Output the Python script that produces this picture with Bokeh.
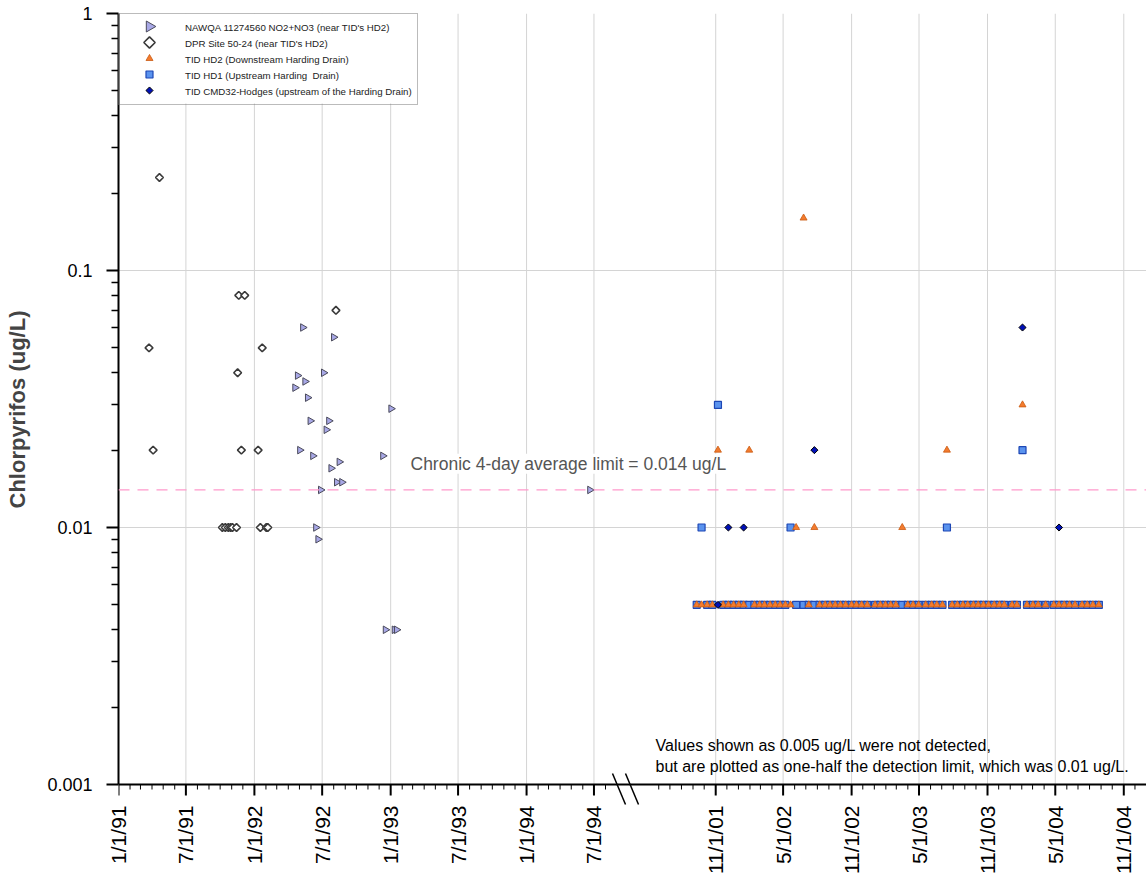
import math
from datetime import date
from bokeh.plotting import figure
from bokeh.models import (Range1d, FixedTicker, Span, Label, Legend, LegendItem,
                          ColumnDataSource)
from bokeh.embed import file_html
from bokeh.resources import INLINE

# ---------------- data ----------------
nawqa_dates = ["1992-05-10", "1992-08-01", "1992-04-26", "1992-07-05", "1992-05-16",
               "1992-04-19", "1992-05-23", "1993-01-02", "1992-05-30", "1992-07-19",
               "1992-07-12", "1992-05-02", "1992-06-06", "1992-12-11", "1992-08-16",
               "1992-07-25", "1992-08-09", "1992-08-23", "1992-06-27", "1994-06-20",
               "1992-06-14", "1992-06-20", "1992-12-18", "1993-01-11", "1993-01-17"]
nawqa_vals = [0.06, 0.055, 0.039, 0.04, 0.037,
              0.035, 0.032, 0.029, 0.026, 0.026,
              0.024, 0.02, 0.019, 0.019, 0.018,
              0.017, 0.015, 0.015, 0.014, 0.014,
              0.01, 0.009, 0.004, 0.004, 0.004]

dpr_dates = ["1991-03-24", "1991-04-04", "1991-04-21", "1991-10-07", "1991-10-15",
             "1991-10-23", "1991-10-29", "1991-11-03", "1991-11-14", "1991-11-17",
             "1991-11-20", "1991-11-27", "1991-12-06", "1992-01-11", "1992-01-17",
             "1992-01-22", "1992-02-02", "1992-02-06", "1992-08-07"]
dpr_vals = [0.05, 0.02, 0.23, 0.01, 0.01,
            0.01, 0.01, 0.01, 0.01, 0.04,
            0.08, 0.02, 0.08, 0.02, 0.01,
            0.05, 0.01, 0.01, 0.07]

tid_dates = ["2001-09-11", "2001-09-24", "2001-10-09", "2001-10-23", "2001-11-07",
             "2001-11-21", "2001-12-05", "2001-12-19", "2002-01-02", "2002-01-15",
             "2002-01-30", "2002-02-13", "2002-02-27", "2002-03-12", "2002-03-27",
             "2002-04-10", "2002-04-23", "2002-05-07", "2002-05-21", "2002-06-05",
             "2002-06-25", "2002-07-09", "2002-07-24", "2002-08-07", "2002-08-22",
             "2002-09-04", "2002-09-18", "2002-10-02", "2002-10-16", "2002-11-01",
             "2002-11-14", "2002-11-28", "2002-12-13", "2003-01-03", "2003-01-17",
             "2003-01-31", "2003-02-14", "2003-02-28", "2003-03-17", "2003-04-01",
             "2003-04-15", "2003-04-30", "2003-05-19", "2003-06-04", "2003-06-18",
             "2003-07-03", "2003-07-15", "2003-07-29", "2003-08-12", "2003-08-27",
             "2003-09-09", "2003-09-24", "2003-10-07", "2003-10-21", "2003-11-04",
             "2003-11-19", "2003-12-03", "2003-12-16", "2004-01-06", "2004-01-19",
             "2004-02-03", "2004-02-15", "2004-03-02", "2004-03-16", "2004-04-05",
             "2004-04-27", "2004-05-11", "2004-05-25", "2004-06-08", "2004-06-23",
             "2004-07-12", "2004-07-26", "2004-08-10", "2004-08-26"]
hd1_vals = [0.005, 0.01, 0.005, 0.005, 0.03,
            0.005, 0.005, 0.005, 0.005, 0.005,
            0.005, 0.005, 0.005, 0.005, 0.005,
            0.005, 0.005, 0.005, 0.01, 0.005,
            0.005, 0.005, 0.005, 0.005, 0.005,
            0.005, 0.005, 0.005, 0.005, 0.005,
            0.005, 0.005, 0.005, 0.005, 0.005,
            0.005, 0.005, 0.005, 0.005, 0.005,
            0.005, 0.005, 0.005, 0.005, 0.005,
            0.005, 0.01, 0.005, 0.005, 0.005,
            0.005, 0.005, 0.005, 0.005, 0.005,
            0.005, 0.005, 0.005, 0.005, 0.005,
            0.02, 0.005, 0.005, 0.005, 0.005,
            0.005, 0.005, 0.005, 0.005, 0.005,
            0.005, 0.005, 0.005, 0.005]
hd2_vals = [0.005, 0.005, 0.005, 0.005, 0.02,
            0.005, 0.005, 0.005, 0.005, 0.005,
            0.02, 0.005, 0.005, 0.005, 0.005,
            0.005, 0.005, 0.005, 0.005, 0.01,
            0.16, 0.005, 0.01, 0.005, 0.005,
            0.005, 0.005, 0.005, 0.005, 0.005,
            0.005, 0.005, 0.005, 0.005, 0.005,
            0.005, 0.005, 0.005, 0.01, 0.005,
            0.005, 0.005, 0.005, 0.005, 0.005,
            0.005, 0.02, 0.005, 0.005, 0.005,
            0.005, 0.005, 0.005, 0.005, 0.005,
            0.005, 0.005, 0.005, 0.005, 0.005,
            0.03, 0.005, 0.005, 0.005, 0.005,
            0.005, 0.005, 0.005, 0.005, 0.005,
            0.005, 0.005, 0.005, 0.005]

cmd_dates = ["2001-11-07", "2001-12-05", "2002-01-15", "2002-07-24", "2004-02-03", "2004-05-11"]
cmd_vals = [0.005, 0.01, 0.01, 0.02, 0.06, 0.01]

x_tick_dates = ["1991-01-01", "1991-07-01", "1992-01-01", "1992-07-01", "1993-01-01",
                "1993-07-01", "1994-01-01", "1994-07-01",
                "2001-11-01", "2002-05-01", "2002-11-01", "2003-05-01", "2003-11-01",
                "2004-05-01", "2004-11-01"]
x_tick_labels = ["1/1/91", "7/1/91", "1/1/92", "7/1/92", "1/1/93", "7/1/93", "1/1/94", "7/1/94",
                 "11/1/01", "5/1/02", "11/1/02", "5/1/03", "11/1/03", "5/1/04", "11/1/04"]
y_ticks = [0.001, 0.01, 0.1, 1]
y_tick_labels = ["0.001", "0.01", "0.1", "1"]
chronic_limit = 0.014

legend_labels = ["NAWQA 11274560 NO2+NO3 (near TID's HD2)",
                 "DPR Site 50-24 (near TID's HD2)",
                 "TID HD2 (Downstream Harding Drain)",
                 "TID HD1 (Upstream Harding  Drain)",
                 "TID CMD32-Hodges (upstream of the Harding Drain)"]

# ---------------- broken time axis ----------------
LEFT0 = date(1991, 1, 1)
RIGHT0 = date(2001, 11, 1)
RIGHT_OFFSET = 1604          # axis position (days) of 11/1/01 after the break
BREAK_DATE = date(1998, 1, 1)
X_END = 2761


def to_x(s):
    d = date.fromisoformat(s) if isinstance(s, str) else s
    if d < BREAK_DATE:
        return (d - LEFT0).days
    return (d - RIGHT0).days + RIGHT_OFFSET


def month_starts(y0, m0, y1, m1):
    out = []
    y, m = y0, m0
    while (y, m) <= (y1, m1):
        out.append(date(y, m, 1))
        m += 1
        if m > 12:
            m, y = 1, y + 1
    return out


x_major = [to_x(d) for d in x_tick_dates]
x_minor = [to_x(d) for d in month_starts(1991, 2, 1994, 8)] + \
          [to_x(d) for d in month_starts(2001, 6, 2004, 12)]
x_minor = [x for x in x_minor if x not in x_major]
y_minor = [m * 10.0 ** e for e in (-3, -2, -1) for m in range(2, 10)]

# ---------------- layout geometry (pixels) ----------------
FONT = "Liberation Sans"
W, H = 1146, 877
FRAME_L, FRAME_T = 118, 13
AXIS_Y = 784                 # pixel row of the 0.001 axis line
FRAME_BOTTOM = 805           # frame runs a little below the axis line (for ticks/break mark)
FRAME_B = H - FRAME_BOTTOM
FRAME_W = W - FRAME_L
DECADE = (AXIS_Y - FRAME_T) / 3.0


def px_to_x(px):
    return (px - FRAME_L) / FRAME_W * X_END


def py_to_y(py):
    return 10 ** (-(py - FRAME_T) / DECADE)


p = figure(width=W, height=H, x_range=Range1d(0, X_END),
           y_range=Range1d(py_to_y(FRAME_BOTTOM), 1),
           y_axis_type="log", output_backend="svg", toolbar_location=None,
           min_border_left=FRAME_L, min_border_right=0, min_border_top=FRAME_T,
           min_border_bottom=FRAME_B,
           background_fill_color="white", border_fill_color="white")
p.outline_line_color = None

# x axis: labels from Bokeh's axis, line + ticks drawn at the 0.001 level
p.xaxis.ticker = FixedTicker(ticks=x_major, minor_ticks=x_minor)
p.xaxis.major_label_overrides = {x: lab for x, lab in zip(x_major, x_tick_labels)}
p.xaxis.major_label_orientation = math.pi / 2
p.xaxis.major_label_text_font = FONT
p.xaxis.major_label_text_font_size = "21px"
p.xaxis.major_label_text_color = "black"
p.xaxis.major_label_standoff = 0
p.xaxis.major_tick_out = 0
p.xaxis.major_tick_in = 0
p.xaxis.minor_tick_out = 0
p.xaxis.minor_tick_in = 0
p.xaxis.axis_line_color = None
p.xaxis.major_tick_line_color = None
p.xaxis.minor_tick_line_color = None

p.yaxis.bounds = (0.001, 1)
p.yaxis.ticker = FixedTicker(ticks=y_ticks, minor_ticks=y_minor)
p.yaxis.major_label_overrides = {v: lab for v, lab in zip(y_ticks, y_tick_labels)}
p.yaxis.major_label_text_font = FONT
p.yaxis.major_label_text_font_size = "18px"
p.yaxis.major_label_text_color = "black"
p.yaxis.major_label_standoff = 14
p.yaxis.major_tick_out = 12
p.yaxis.major_tick_in = 0
p.yaxis.minor_tick_out = 7
p.yaxis.minor_tick_in = 0
p.yaxis.axis_line_width = 2
p.yaxis.major_tick_line_width = 2
p.yaxis.minor_tick_line_width = 1.5
p.yaxis.axis_label = "Chlorpyrifos (ug/L)"
p.yaxis.axis_label_text_font = FONT
p.yaxis.axis_label_text_font_style = "bold"
p.yaxis.axis_label_text_font_size = "22px"
p.yaxis.axis_label_standoff = 14

p.xgrid.visible = False
p.ygrid.ticker = FixedTicker(ticks=y_ticks[1:])
p.ygrid.grid_line_color = "#d4d4d4"

GRID = "#d4d4d4"
# vertical grid lines, only above the axis line
p.segment(x0=x_major, y0=[0.001] * len(x_major), x1=x_major, y1=[1] * len(x_major),
          line_color=GRID, line_width=1)

# legend background (white box under the legend samples)
LEG_PAD, LEG_GW, LEG_IH, LEG_W = 5, 52, 16, 301
p.quad(left=[px_to_x(FRAME_L)], right=[px_to_x(FRAME_L + LEG_W)],
       top=[1], bottom=[py_to_y(FRAME_T + 2 * LEG_PAD + 5 * LEG_IH)],
       fill_color="white", line_color=None)

# limit line
p.add_layout(Span(location=chronic_limit, dimension="width", line_color="#ff99cc",
                  line_dash="11 8", line_width=1.2))

# data series
nawqa_src = ColumnDataSource(dict(x=[to_x(d) for d in nawqa_dates], y=nawqa_vals))
dpr_src = ColumnDataSource(dict(x=[to_x(d) for d in dpr_dates], y=dpr_vals))
hd1_src = ColumnDataSource(dict(x=[to_x(d) for d in tid_dates], y=hd1_vals))
hd2_src = ColumnDataSource(dict(x=[to_x(d) for d in tid_dates], y=hd2_vals))
cmd_src = ColumnDataSource(dict(x=[to_x(d) for d in cmd_dates], y=cmd_vals))

nawqa_style = dict(marker="triangle", angle=-math.pi / 2, fill_color="#a8a8e6",
                   line_color="#4a4a5a", line_width=1)
dpr_style = dict(marker="square", angle=math.pi / 4, fill_color="white",
                 line_color="#3a3a3a", line_width=1.6)
hd2_style = dict(marker="triangle", fill_color="#f37b2e", line_color="#c95a12", line_width=0.8)
hd1_style = dict(marker="square", fill_color="#5a93ee", line_color="#1d47b5", line_width=1.2)
cmd_style = dict(marker="square", angle=math.pi / 4, fill_color="#0010b8",
                 line_color="black", line_width=1)

p.scatter("x", "y", source=dpr_src, size=5.5, **dpr_style)
p.scatter("x", "y", source=nawqa_src, size=7.5, **nawqa_style)
p.scatter("x", "y", source=hd1_src, size=7, **hd1_style)
p.scatter("x", "y", source=hd2_src, size=7, **hd2_style)
p.scatter("x", "y", source=cmd_src, size=5, **cmd_style)

# legend samples
leg_cx = px_to_x(FRAME_L + LEG_PAD + LEG_GW / 2)
leg_styles = [(nawqa_style, 11), (dpr_style, 8), (hd2_style, 7), (hd1_style, 7), (cmd_style, 5)]
for i, (st, sz) in enumerate(leg_styles):
    cy = py_to_y(FRAME_T + LEG_PAD + LEG_IH / 2 + i * LEG_IH)
    p.scatter([leg_cx], [cy], size=sz, **st)

# legend box + labels (samples drawn above)
dummy = p.scatter([], [], marker="square", fill_alpha=0, line_alpha=0)
legend = Legend(items=[LegendItem(label=lab, renderers=[dummy]) for lab in legend_labels],
                location="top_left", margin=0, padding=LEG_PAD, spacing=0,
                glyph_width=LEG_GW, glyph_height=LEG_IH, label_height=LEG_IH, label_standoff=9,
                label_text_font=FONT, label_text_font_size="9.7px", label_text_color="#222222",
                border_line_color="#777777", border_line_width=1,
                background_fill_alpha=0)
p.add_layout(legend)

# x axis line and ticks at 0.001
p.add_layout(Span(location=0.001, dimension="width", line_color="black", line_width=2))
p.segment(x0=x_major, y0=[0.001] * len(x_major), x1=x_major,
          y1=[py_to_y(AXIS_Y + 11)] * len(x_major), line_color="black", line_width=2)
p.segment(x0=x_minor, y0=[0.001] * len(x_minor), x1=x_minor,
          y1=[py_to_y(AXIS_Y + 5)] * len(x_minor), line_color="black", line_width=1)

# axis break mark
for bx in (612, 625):
    p.segment(x0=[px_to_x(bx)], y0=[py_to_y(AXIS_Y - 11)],
              x1=[px_to_x(bx + 13)], y1=[py_to_y(AXIS_Y + 20)],
              line_color="black", line_width=1.5)

# annotations
p.add_layout(Label(x=px_to_x(410), y=0.0177, text="Chronic 4-day average limit = 0.014 ug/L",
                   text_font=FONT, text_font_size="17.5px", text_color="#555555",
                   text_baseline="middle", background_fill_color="white"))
p.add_layout(Label(x=px_to_x(655), y=0.00142, text="Values shown as 0.005 ug/L were not detected,",
                   text_font=FONT, text_font_size="16px", text_color="black",
                   text_baseline="middle"))
p.add_layout(Label(x=px_to_x(655), y=0.001175,
                   text="but are plotted as one-half the detection limit, which was 0.01 ug/L.",
                   text_font=FONT, text_font_size="16px", text_color="black",
                   text_baseline="middle"))

open("out.html", "w").write(file_html(p, INLINE))
